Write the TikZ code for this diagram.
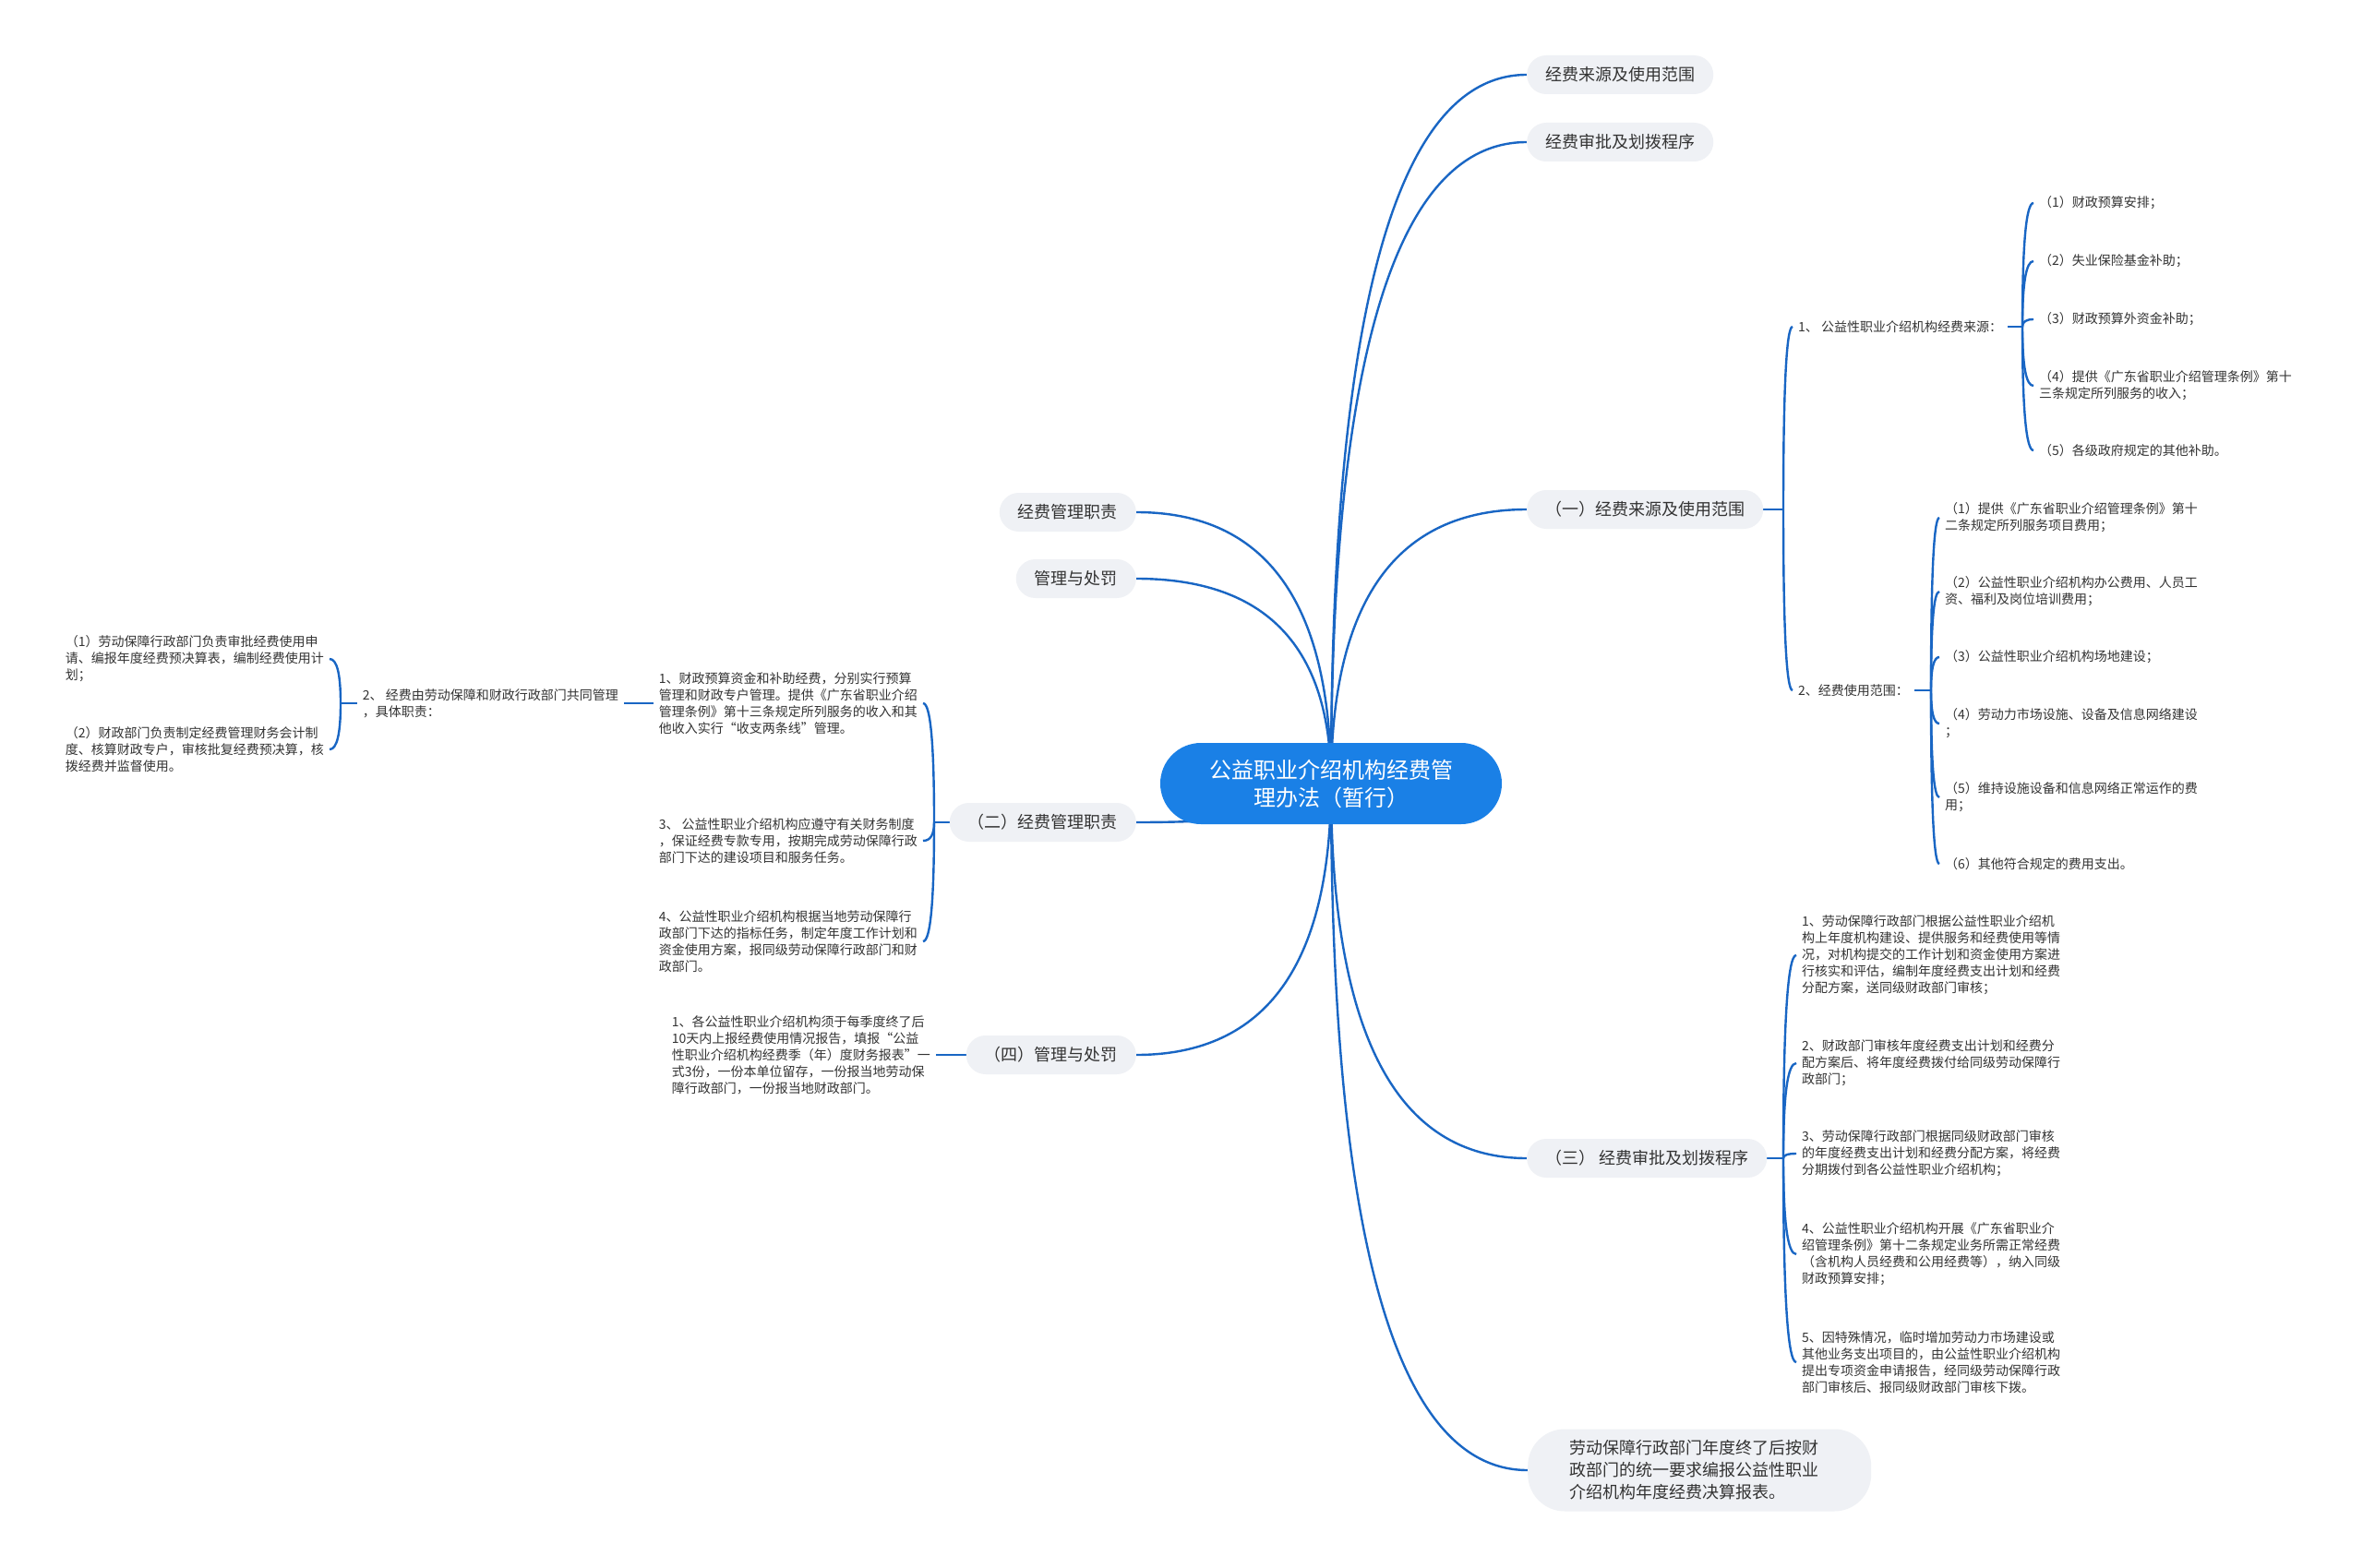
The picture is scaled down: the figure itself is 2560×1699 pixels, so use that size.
\documentclass[tikz,border=0pt]{standalone}
\usepackage{fontspec}
\setmainfont{Noto Sans CJK SC}
\usetikzlibrary{calc}
\pgfdeclarelayer{bg}
\pgfsetlayers{bg,main}
\definecolor{linkc}{RGB}{25,102,196}
\definecolor{rootc}{RGB}{26,128,230}
\definecolor{topicc}{RGB}{239,241,245}
\definecolor{txtc}{RGB}{51,51,51}
\tikzset{
  link/.style={draw=linkc, line width=2.4pt},
  qc/.style={to path={.. controls ($(\tikztostart)!0.6667!(\tikztostart |- \tikztotarget)$) and ($(\tikztotarget)!0.6667!(\tikztostart |- \tikztotarget)$) .. (\tikztotarget)}},
  rootbox/.style={fill=rootc, text=white, rounded corners=44pt, minimum width=370pt, minimum height=88pt, align=center, inner sep=0pt, font=\fontsize{24}{30}\selectfont},
  topic/.style={fill=topicc, text=txtc, rounded corners=21pt, minimum height=42pt, inner xsep=20pt, inner ysep=0pt, font=\fontsize{18}{22}\selectfont},
  bignote/.style={fill=topicc, text=txtc, rounded corners=40pt, align=left, text width=282pt, inner xsep=45pt, minimum height=89pt, font=\fontsize{18}{24}\selectfont},
  leaf/.style={text=txtc, align=left, inner xsep=6pt, inner ysep=2pt, font=\fontsize{14}{18}\selectfont},
}
\begin{document}
\begin{tikzpicture}[x=1pt,y=-1pt]
\useasboundingbox (0,0) rectangle (2560,1699);
\begin{pgfonlayer}{bg}
\fill[white] (0,0) rectangle (2560,1699);
\end{pgfonlayer}

% root
\node[rootbox] (root) at (1442,849) {公益职业介绍机构经费管\\理办法（暂行）};

% level 1
\node[topic, anchor=west] (t1) at (1654,81) {经费来源及使用范围};
\node[topic, anchor=west] (t2) at (1654,154) {经费审批及划拨程序};
\node[topic, anchor=west] (r1) at (1654,552) {（一）经费来源及使用范围};
\node[topic, anchor=west] (r3) at (1654,1255) {（三） 经费审批及划拨程序};
\node[bignote, anchor=west] (b1) at (1655,1593) {劳动保障行政部门年度终了后按财\\政部门的统一要求编报公益性职业\\介绍机构年度经费决算报表。};
\node[topic, anchor=east] (l1) at (1231,555) {经费管理职责};
\node[topic, anchor=east] (l2) at (1231,627) {管理与处罚};
\node[topic, anchor=east] (l3) at (1231,891) {（二）经费管理职责};
\node[topic, anchor=east] (l4) at (1231,1143) {（四）管理与处罚};

% group (一)
\node[leaf, anchor=west] (a1) at (1942,354) {1、 公益性职业介绍机构经费来源：};
\node[leaf, anchor=west] (a2) at (1942,748) {2、经费使用范围：};
\coordinate (ja) at (1932,552);

\node[leaf, anchor=west] (a11) at (2203,220) {（1）财政预算安排；};
\node[leaf, anchor=west] (a12) at (2203,283) {（2）失业保险基金补助；};
\node[leaf, anchor=west] (a13) at (2203,346) {（3）财政预算外资金补助；};
\node[leaf, anchor=west] (a14) at (2203,418) {（4）提供《广东省职业介绍管理条例》第十\\三条规定所列服务的收入；};
\node[leaf, anchor=west] (a15) at (2203,488) {（5）各级政府规定的其他补助。};
\coordinate (ja1) at (2191,354);

\node[leaf, anchor=west] (a21) at (2101,561) {（1）提供《广东省职业介绍管理条例》第十\\二条规定所列服务项目费用；};
\node[leaf, anchor=west] (a22) at (2101,641) {（2）公益性职业介绍机构办公费用、人员工\\资、福利及岗位培训费用；};
\node[leaf, anchor=west] (a23) at (2101,712) {（3）公益性职业介绍机构场地建设；};
\node[leaf, anchor=west] (a24) at (2101,784) {（4）劳动力市场设施、设备及信息网络建设\\；};
\node[leaf, anchor=west] (a25) at (2101,864) {（5）维持设施设备和信息网络正常运作的费\\用；};
\node[leaf, anchor=west] (a26) at (2101,936) {（6）其他符合规定的费用支出。};
\coordinate (ja2) at (2092,748);

% group (三)
\node[leaf, anchor=west] (c1) at (1946,1035) {1、劳动保障行政部门根据公益性职业介绍机\\构上年度机构建设、提供服务和经费使用等情\\况，对机构提交的工作计划和资金使用方案进\\行核实和评估，编制年度经费支出计划和经费\\分配方案，送同级财政部门审核；};
\node[leaf, anchor=west] (c2) at (1946,1152) {2、财政部门审核年度经费支出计划和经费分\\配方案后、将年度经费拨付给同级劳动保障行\\政部门；};
\node[leaf, anchor=west] (c3) at (1946,1250) {3、劳动保障行政部门根据同级财政部门审核\\的年度经费支出计划和经费分配方案，将经费\\分期拨付到各公益性职业介绍机构；};
\node[leaf, anchor=west] (c4) at (1946,1359) {4、公益性职业介绍机构开展《广东省职业介\\绍管理条例》第十二条规定业务所需正常经费\\（含机构人员经费和公用经费等），纳入同级\\财政预算安排；};
\node[leaf, anchor=west] (c5) at (1946,1476) {5、因特殊情况，临时增加劳动力市场建设或\\其他业务支出项目的，由公益性职业介绍机构\\提出专项资金申请报告，经同级劳动保障行政\\部门审核后、报同级财政部门审核下拨。};
\coordinate (jr3) at (1932,1255);

% group (二)
\node[leaf, anchor=east] (m1) at (1000,762) {1、财政预算资金和补助经费，分别实行预算\\管理和财政专户管理。提供《广东省职业介绍\\管理条例》第十三条规定所列服务的收入和其\\他收入实行“收支两条线”管理。};
\node[leaf, anchor=east] (m3) at (1000,911) {3、 公益性职业介绍机构应遵守有关财务制度\\，保证经费专款专用，按期完成劳动保障行政\\部门下达的建设项目和服务任务。};
\node[leaf, anchor=east] (m4) at (1000,1020) {4、公益性职业介绍机构根据当地劳动保障行\\政部门下达的指标任务，制定年度工作计划和\\资金使用方案，报同级劳动保障行政部门和财\\政部门。};
\coordinate (jl3) at (1012,891);

\node[leaf, anchor=east] (m2) at (676,762) {2、 经费由劳动保障和财政行政部门共同管理\\，具体职责：};
\node[leaf, anchor=east] (m21) at (357,714) {（1）劳动保障行政部门负责审批经费使用申\\请、编报年度经费预决算表，编制经费使用计\\划；};
\node[leaf, anchor=east] (m22) at (357,812) {（2）财政部门负责制定经费管理财务会计制\\度、核算财政专户，审核批复经费预决算，核\\拨经费并监督使用。};
\coordinate (jm2) at (369,762);

% group (四)
\node[leaf, anchor=east] (n1) at (1014,1143) {1、各公益性职业介绍机构须于每季度终了后\\10天内上报经费使用情况报告，填报“公益\\性职业介绍机构经费季（年）度财务报表”一\\式3份，一份本单位留存，一份报当地劳动保\\障行政部门，一份报当地财政部门。};

\begin{pgfonlayer}{bg}
% main branches
\draw[link] (root.center) to[qc] (t1.west);
\draw[link] (root.center) to[qc] (t2.west);
\draw[link] (root.center) to[qc] (r1.west);
\draw[link] (root.center) to[qc] (r3.west);
\draw[link] (root.center) to[qc] (b1.west);
\draw[link] (root.center) to[qc] (l1.east);
\draw[link] (root.center) to[qc] (l2.east);
\draw[link] (root.center) to[qc] (l3.east);
\draw[link] (root.center) to[qc] (l4.east);
% (一)
\draw[link] (r1.east) -- (ja);
\draw[link] (ja) to[qc] (a1.west);
\draw[link] (ja) to[qc] (a2.west);
\draw[link] (a1.east) -- (ja1);
\foreach \n in {a11,a12,a13,a14,a15} \draw[link] (ja1) to[qc] (\n.west);
\draw[link] (a2.east) -- (ja2);
\foreach \n in {a21,a22,a23,a24,a25,a26} \draw[link] (ja2) to[qc] (\n.west);
% (三)
\draw[link] (r3.east) -- (jr3);
\foreach \n in {c1,c2,c3,c4,c5} \draw[link] (jr3) to[qc] (\n.west);
% (二)
\draw[link] (l3.west) -- (jl3);
\foreach \n in {m1,m3,m4} \draw[link] (jl3) to[qc] (\n.east);
\draw[link] (m1.west) -- (m2.east);
\draw[link] (m2.west) -- (jm2);
\foreach \n in {m21,m22} \draw[link] (jm2) to[qc] (\n.east);
% (四)
\draw[link] (n1.east) -- (l4.west);
\end{pgfonlayer}
\end{tikzpicture}
\end{document}
